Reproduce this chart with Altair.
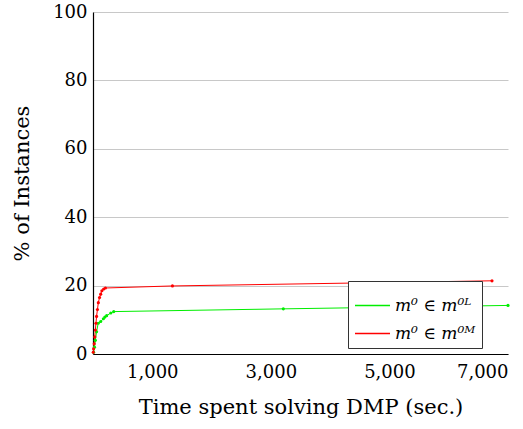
import altair as alt
import pandas as pd

red_t = [5, 10, 20, 30, 40, 50, 60, 75, 90, 110, 130, 150, 180, 210, 1340, 6730]
red_p = [0.5, 1.5, 3, 5, 7, 9, 11, 13, 15, 16.5, 17.5, 18.5, 19.0, 19.3, 19.9, 21.4]
green_t = [10, 25, 40, 60, 88, 130, 175, 200, 230, 300, 350, 3210, 7000]
green_p = [0.5, 2, 4, 6.5, 9, 9.5, 10.3, 10.8, 11.2, 12.0, 12.4, 13.2, 14.2]

lab_L = "m⁰ ∈ m⁰ᴸ"
lab_M = "m⁰ ∈ m⁰ᴹ"

df = pd.concat([
    pd.DataFrame({"t": green_t, "p": green_p, "s": lab_L, "o": range(len(green_t))}),
    pd.DataFrame({"t": red_t, "p": red_p, "s": lab_M, "o": range(len(red_t))}),
])

font = "DejaVu Serif"

chart = alt.Chart(df).mark_line(
    strokeWidth=1, point=alt.OverlayMarkDef(size=10, filled=True)
).encode(
    x=alt.X("t:Q", scale=alt.Scale(domain=[0, 7000], nice=False),
            axis=alt.Axis(values=[1000, 3000, 5000, 7000], format=",.0f", grid=False,
                          title="Time spent solving DMP (sec.)", ticks=False,
                          labelPadding=9, titlePadding=15)),
    y=alt.Y("p:Q", scale=alt.Scale(domain=[0, 100], nice=False),
            axis=alt.Axis(values=[0, 20, 40, 60, 80, 100], grid=True, ticks=False,
                          title="% of Instances", labelPadding=6, titlePadding=20)),
    color=alt.Color("s:N", scale=alt.Scale(domain=[lab_L, lab_M], range=["#00ee00", "#ff0000"]),
                    legend=alt.Legend(title=None, orient="none", legendX=255, legendY=269,
                                      strokeColor="#333", fillColor="white", padding=6,
                                      labelFont=font, labelFontSize=17, labelFontStyle="italic",
                                      symbolType="stroke", symbolSize=1225, symbolStrokeWidth=1.5,
                                      labelLimit=200, rowPadding=1)),
    order="o:Q",
).properties(
    width=415, height=342,
    autosize=alt.AutoSizeParams(type="none"),
    padding={"left": 93, "top": 12, "right": 15, "bottom": 75},
).configure(font=font).configure_view(stroke=None).configure_axis(
    labelFont=font, titleFont=font, labelFontSize=18, titleFontSize=21,
    titleFontWeight="normal", labelColor="black", titleColor="black",
    domainColor="black", domainWidth=1.2, gridColor="#c8c8c8",
)

chart.save("out.html", embed_options={"renderer": "svg", "actions": False})
